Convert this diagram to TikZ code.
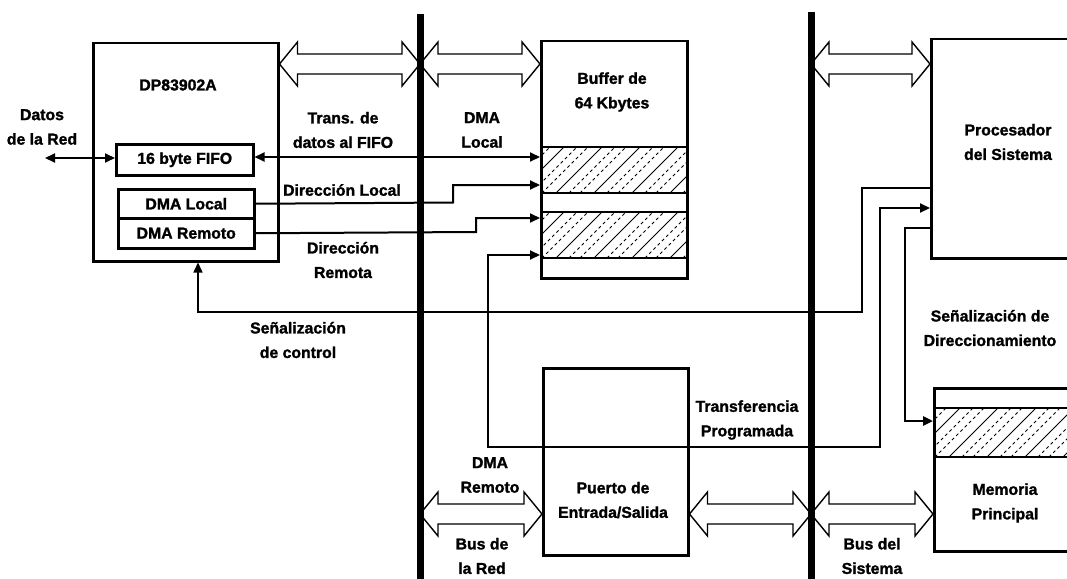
\documentclass[tikz,border=0pt]{standalone}
\usepackage{fontspec}
\setmainfont{Liberation Sans}[BoldFeatures={FakeBold=1.5}]
\usetikzlibrary{arrows.meta,calc}
\newcommand\hollowarr[2]{\draw[hollow] let \p1=(#1), \p2=(#2) in
  (\x1,\y1) -- (\x1+18pt,\y1+22pt) -- (\x1+18pt,\y1+10pt) -- (\x2-18pt,\y1+10pt) -- (\x2-18pt,\y1+22pt) -- (\x2,\y1)
  -- (\x2-18pt,\y1-22pt) -- (\x2-18pt,\y1-10pt) -- (\x1+18pt,\y1-10pt) -- (\x1+18pt,\y1-22pt) -- cycle;}
\newcommand\hatchrect[4]{\begin{scope}
  \clip (#1,#2) rectangle (#3,#4);
  \foreach \s in {-60,-22,...,200}{
    \draw[solidh] ({#1+\s},#4) -- ++(70,-70);
    \draw[dashh] ({#1+\s+13},#4) -- ++(70,-70);
    \draw[dashh] ({#1+\s+24},#4) -- ++(70,-70);
  }
\end{scope}}
\begin{document}
\begin{tikzpicture}[x=1pt,y=-1pt,
  box/.style={draw,line width=2.5pt,inner sep=0pt,anchor=north west},
  lbl/.style={font=\fontsize{15.8}{24.5}\selectfont\bfseries,align=center,inner sep=0pt},
  conn/.style={line width=2pt},
  arr/.style={-{Triangle[length=10pt,width=9pt]}},
  darr/.style={{Triangle[length=10pt,width=9pt]}-{Triangle[length=10pt,width=9pt]}},
  hollow/.style={draw,line width=1.4pt,fill=white,line join=miter},
  bus/.style={line width=7pt},
  solidh/.style={line width=1pt},
  dashh/.style={line width=0.9pt,dash pattern=on 3pt off 3pt}]
\useasboundingbox (0,0) rectangle (1067,578);

% boxes
\node[box,minimum width=185pt,minimum height=218pt] (dp) at (92,42) {};
\node[lbl] (dplabel) at (178,85) {DP83902A};
\node[box,lbl,minimum width=137pt,minimum height=31pt] (fifo) at (115,143) {16 byte FIFO};
\node[box,lbl,minimum width=136pt,minimum height=29pt] (dmal) at (117,188) {DMA Local};
\node[box,lbl,minimum width=136pt,minimum height=30pt] (dmar) at (117,217) {DMA Remoto};

\hatchrect{540}{147}{686}{193}
\hatchrect{540}{212}{686}{258}
\node[box,minimum width=146pt,minimum height=237pt] (buf) at (540,40) {};
\draw[line width=2.5pt] (buf.west |- 0,147) -- (buf.east |- 0,147);
\draw[line width=2pt] (buf.west |- 0,193) -- (buf.east |- 0,193);
\draw[line width=2pt] (buf.west |- 0,212) -- (buf.east |- 0,212);
\draw[line width=2pt] (buf.west |- 0,258) -- (buf.east |- 0,258);
\node[lbl] (buflbl) at (612,92) {Buffer de\\64 Kbytes};

\node[box,minimum width=170pt,minimum height=219pt] (proc) at (930,38) {};
\node[lbl] (proclbl) at (1008,142) {Procesador\\del Sistema};

\node[box,minimum width=145pt,minimum height=187pt] (io) at (542,367) {};
\node[lbl] (iolbl) at (613,500) {Puerto de\\Entrada/Salida};

\hatchrect{933}{408}{1100}{457}
\node[box,minimum width=170pt,minimum height=163pt] (mem) at (933,387) {};
\draw[line width=2.5pt] (mem.west |- 0,408) -- (mem.east |- 0,408);
\draw[line width=2.5pt] (mem.west |- 0,457) -- (mem.east |- 0,457);
\node[lbl] (memlbl) at (1005,503) {Memoria\\Principal};

% buses
\coordinate (b1t) at (420,14);
\coordinate (b1b) at (420,585);
\coordinate (b2t) at (811,12);
\coordinate (b2b) at (811,585);

% connectors
\coordinate (datos) at (45,158);
\draw[conn,darr] (datos) -- (fifo.west |- datos);
\draw[conn,darr] (fifo.east |- 0,157) -- (buf.west |- 0,157);
\draw[conn,arr] (dmal.east) -- (453,202.5) -- (453,185) -- (buf.west |- 0,185);
\draw[conn,arr] (dmar.east) -- (476,232) -- (476,218) -- (buf.west |- 0,218);
\draw[conn,darr] (proc.west |- 0,208) -- (880,208) -- (880,447) -- (488,447) -- (488,255) -- (buf.west |- 0,255);
\draw[line width=1.5pt,arr] (proc.west |- 0,188) -- (862,188) -- (862,312) -- (198,312) -- (dp.south -| 198,0);
\draw[line width=2.5pt,arr] (proc.west |- 0,228) -- (905,228) -- (905,421) -- (mem.west |- 0,421);

% hollow bus arrows
\hollowarr{dp.east |- 0,64}{b1t |- 0,64}
\hollowarr{b1t |- 0,64}{buf.west |- 0,64}
\hollowarr{b2t |- 0,64}{proc.west |- 0,64}
\hollowarr{b1t |- 0,514}{io.west |- 0,514}
\hollowarr{io.east |- 0,514}{b2t |- 0,514}
\hollowarr{b2t |- 0,514}{mem.west |- 0,514}

\draw[bus] (b1t) -- (b1b);
\draw[bus] (b2t) -- (b2b);

% labels
\node[lbl] (datoslbl) at (42,127) {Datos\\de la Red};
\node[lbl] (translbl) at (343,130) {Trans. de\\datos al FIFO};
\node[lbl] (dirloc) at (342,190) {Dirección Local};
\node[lbl] (dirrem) at (343,260) {Dirección\\Remota};
\node[lbl] (dmaloc) at (482,130) {DMA\\Local};
\node[lbl] (senctl) at (298,340) {Señalización\\de control};
\node[lbl] (transp) at (747,420) {Transferencia\\Programada};
\node[lbl] (dmarem) at (490,475) {DMA\\Remoto};
\node[lbl] (busred) at (482,556) {Bus de\\la Red};
\node[lbl] (sendir) at (990,328) {Señalización de\\Direccionamiento};
\node[lbl] (bussis) at (872,556) {Bus del\\Sistema};
\end{tikzpicture}
\end{document}
